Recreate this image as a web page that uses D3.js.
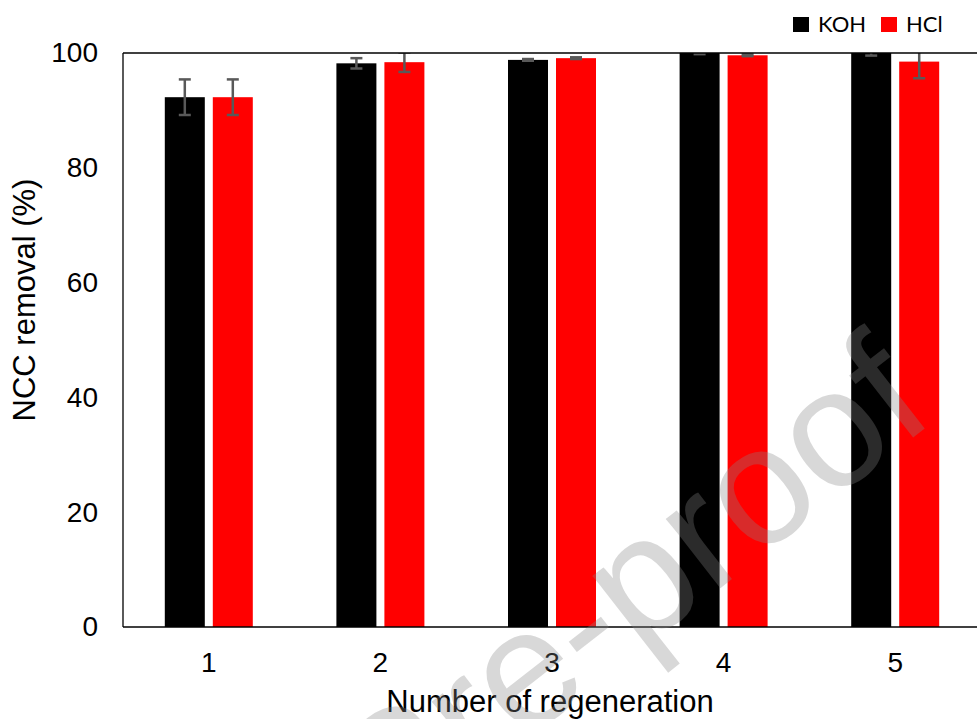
<!DOCTYPE html>
<html>
<head>
<meta charset="utf-8">
<script src="https://cdn.jsdelivr.net/npm/d3@7"></script>
<style>
  body { margin: 0; background: #fff; }
  svg { display: block; }
</style>
</head>
<body>
<div id="chart"></div>
<script>
// chart data
var cycles = ["1", "2", "3", "4", "5"];
var series = ["KOH", "HCl"];
var kohValues = [92.3, 98.2, 98.8, 100.2, 100.2];
var hclValues = [92.3, 98.4, 99.1, 99.6, 98.5];
var kohErrors = [3.1, 0.9, 0.15, 0.4, 0.65];
var hclErrors = [3.1, 1.7, 0.15, 0.15, 2.9];
var yTicks = [0, 20, 40, 60, 80, 100];
var seriesColors = ["#000000", "#ff0000"];

var width = 977, height = 719;
// plot area edges (note: "top" is taken by window.top, so prefix them)
var plotLeft = 123, plotRight = 981, plotTop = 53, plotBottom = 627;

var svg = d3.select("#chart").append("svg")
    .attr("width", width)
    .attr("height", height);

var x = d3.scaleBand().domain(cycles).range([plotLeft, plotRight]);
var xSub = d3.scaleBand().domain(series).range([-44, 44]).paddingInner(1 / 6);
var y = d3.scaleLinear().domain([0, 100]).range([plotBottom, plotTop]);
var color = d3.scaleOrdinal().domain(series).range(seriesColors);

// build rows for the bars
var rows = [];
cycles.forEach(function(c, i) {
    rows.push({ cycle: c, name: "KOH", value: kohValues[i], err: kohErrors[i] });
    rows.push({ cycle: c, name: "HCl", value: hclValues[i], err: hclErrors[i] });
});

svg.append("clipPath").attr("id", "plotClip")
    .append("rect")
    .attr("x", plotLeft).attr("y", plotTop)
    .attr("width", plotRight - plotLeft).attr("height", plotBottom - plotTop);

var plot = svg.append("g").attr("clip-path", "url(#plotClip)");

function barX(d) {
    return x(d.cycle) + x.bandwidth() / 2 + xSub(d.name);
}

plot.selectAll("rect.bar").data(rows).enter().append("rect")
    .attr("class", "bar")
    .attr("x", barX)
    .attr("y", function(d) { return y(d.value); })
    .attr("width", xSub.bandwidth())
    .attr("height", function(d) { return y(0) - y(d.value); })
    .attr("fill", function(d) { return color(d.name); });

// error bars
var errG = plot.selectAll("g.err").data(rows).enter().append("g")
    .attr("class", "err")
    .attr("stroke", "#595959")
    .attr("stroke-width", 2.5);

errG.append("line")
    .attr("x1", function(d) { return barX(d) + xSub.bandwidth() / 2; })
    .attr("x2", function(d) { return barX(d) + xSub.bandwidth() / 2; })
    .attr("y1", function(d) { return y(d.value + d.err); })
    .attr("y2", function(d) { return y(d.value - d.err); });

[1, -1].forEach(function(sign) {
    errG.append("line")
        .attr("x1", function(d) { return barX(d) + xSub.bandwidth() / 2 - 6; })
        .attr("x2", function(d) { return barX(d) + xSub.bandwidth() / 2 + 6; })
        .attr("y1", function(d) { return y(d.value + sign * d.err); })
        .attr("y2", function(d) { return y(d.value + sign * d.err); });
});

// frame: left, top and bottom lines
var frame = svg.append("g").attr("stroke", "#000").attr("stroke-width", 1.3).attr("fill", "none");
frame.append("line").attr("x1", plotLeft).attr("x2", plotLeft).attr("y1", plotTop).attr("y2", plotBottom);
frame.append("line").attr("x1", plotLeft).attr("x2", width).attr("y1", plotTop).attr("y2", plotTop);
frame.append("line").attr("x1", plotLeft).attr("x2", width).attr("y1", plotBottom).attr("y2", plotBottom);

// axes without ticks
var yAxis = svg.append("g")
    .attr("transform", "translate(" + (plotLeft - 25) + ",0)")
    .call(d3.axisLeft(y).tickValues(yTicks).tickSize(0).tickPadding(0));
yAxis.select(".domain").remove();
yAxis.selectAll("text")
    .attr("font-family", "'Liberation Sans', Arial, sans-serif")
    .attr("font-size", 28)
    .attr("fill", "#000");

var xAxis = svg.append("g")
    .attr("transform", "translate(0," + plotBottom + ")")
    .call(d3.axisBottom(x).tickSize(0).tickPadding(0));
xAxis.select(".domain").remove();
xAxis.selectAll("text")
    .attr("dy", null)
    .attr("y", 45)
    .attr("font-family", "'Liberation Sans', Arial, sans-serif")
    .attr("font-size", 28)
    .attr("fill", "#000");

svg.append("text")
    .attr("x", 550).attr("y", 712)
    .attr("text-anchor", "middle")
    .attr("font-family", "'Liberation Sans', Arial, sans-serif")
    .attr("font-size", 31)
    .text("Number of regeneration");

svg.append("text")
    .attr("transform", "translate(35,300) rotate(-90)")
    .attr("text-anchor", "middle")
    .attr("font-family", "'Liberation Sans', Arial, sans-serif")
    .attr("font-size", 31)
    .text("NCC removal (%)");

// legend
var legendX = [793, 881];
var legend = svg.selectAll("g.legend").data(series).enter().append("g")
    .attr("class", "legend")
    .attr("transform", function(d, i) { return "translate(" + legendX[i] + ",17)"; });
legend.append("rect")
    .attr("width", 16).attr("height", 15)
    .attr("fill", function(d) { return color(d); });
legend.append("text")
    .attr("x", 25).attr("y", 15)
    .attr("font-family", "Lato, sans-serif")
    .attr("font-size", 22)
    .text(function(d) { return d; });

// watermark
svg.append("text")
    .attr("transform", "translate(938,418) rotate(-38)")
    .attr("text-anchor", "end")
    .attr("font-family", "'Liberation Sans', Arial, sans-serif")
    .attr("font-size", 167)
    .attr("fill", "#878787")
    .attr("fill-opacity", 0.32)
    .text("Journal Pre-proof");
</script>
</body>
</html>
